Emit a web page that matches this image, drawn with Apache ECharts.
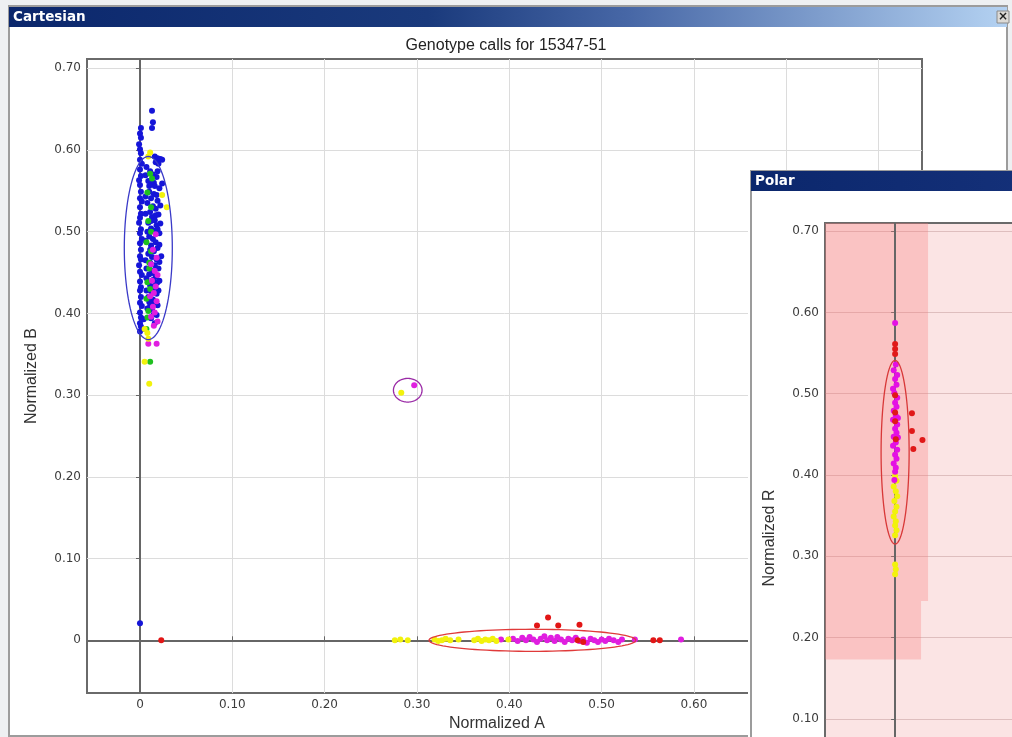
<!DOCTYPE html>
<html>
<head>
<meta charset="utf-8">
<script src="https://cdn.jsdelivr.net/npm/echarts@6.0.0/dist/echarts.min.js"></script>
<style>
  html, body { margin: 0; padding: 0; background: #eef0f2; overflow: hidden; width: 1012px; height: 737px; }
  #cart { position: absolute; left: 0; top: 0; width: 1012px; height: 737px; }
  #polar { position: absolute; left: 748px; top: 170px; width: 300px; height: 720px; z-index: 2; }
</style>
</head>
<body>
<div id="cart"></div>
<div id="polar"></div>
<script>
// ---------- Cartesian view: normalized A / normalized B ----------
const xTicks = [0, 0.1, 0.2, 0.3, 0.4, 0.5, 0.6, 0.7, 0.8];
const yTicks = [0, 0.1, 0.2, 0.3, 0.4, 0.5, 0.6, 0.7];
const polarTicks = [0.1, 0.2, 0.3, 0.4, 0.5, 0.6, 0.7];

// BB cluster, samples sitting on the B axis
const blueOnAxis = [
  [0.001,0.627],[0.000,0.620],[0.001,0.615],[-0.001,0.607],[0.000,0.601],[0.001,0.596],[0.000,0.588],
  [0.002,0.583],[0.000,0.576],[0.001,0.568],[-0.001,0.563],[0.000,0.557],[0.001,0.549],[0.000,0.541],
  [0.002,0.537],[0.000,0.530],[0.001,0.522],[0.000,0.517],[-0.001,0.511],[0.001,0.503],[0.000,0.498],
  [0.002,0.491],[0.000,0.486],[0.001,0.478],[0.000,0.470],[0.001,0.466],[-0.001,0.459],[0.000,0.451],
  [0.002,0.447],[0.000,0.439],[0.001,0.432],[0.000,0.428],[0.001,0.420],[0.000,0.413],[0.002,0.409],
  [0.000,0.401],[0.001,0.395],[0.000,0.388],[0.001,0.384],[0.000,0.378],[0.003,0.381],[0.004,0.393],
  [0.000,0.021]
];
// BB cluster, samples just off the axis
const blueCluster = [
  [0.013,0.648],[0.014,0.634],[0.013,0.627],[0.016,0.592],[0.019,0.590],[0.022,0.589],[0.024,0.588],
  [0.017,0.585],[0.020,0.583],[0.007,0.579],[0.011,0.574],[0.014,0.570],[0.018,0.567],[0.009,0.562],
  [0.015,0.560],[0.013,0.559],[0.024,0.559],[0.016,0.556],[0.021,0.553],[0.010,0.549],[0.015,0.546],
  [0.018,0.545],[0.012,0.541],[0.019,0.538],[0.008,0.535],[0.014,0.531],[0.017,0.528],[0.011,0.524],
  [0.020,0.521],[0.017,0.520],[0.013,0.518],[0.016,0.514],[0.009,0.511],[0.022,0.510],[0.018,0.508],
  [0.012,0.504],[0.015,0.501],[0.008,0.500],[0.021,0.498],[0.010,0.494],[0.014,0.491],[0.017,0.487],
  [0.012,0.483],[0.019,0.480],[0.015,0.476],[0.009,0.473],[0.023,0.470],[0.013,0.469],[0.018,0.466],
  [0.011,0.462],[0.016,0.459],[0.020,0.455],[0.007,0.455],[0.013,0.452],[0.010,0.448],[0.017,0.445],
  [0.014,0.441],[0.021,0.440],[0.019,0.438],[0.011,0.434],[0.015,0.431],[0.012,0.427],[0.018,0.424],
  [0.009,0.420],[0.014,0.417],[0.016,0.413],[0.011,0.409],[0.013,0.405],[0.015,0.399],[0.012,0.394],
  [0.016,0.388],[0.006,0.569],[0.019,0.574],[0.010,0.556],[0.006,0.543],[0.022,0.532],[0.006,0.522],
  [0.012,0.513],[0.019,0.503],[0.006,0.489],[0.021,0.484],[0.011,0.478],[0.006,0.465],[0.021,0.463],
  [0.015,0.449],[0.007,0.443],[0.017,0.436],[0.007,0.428],[0.020,0.428],[0.010,0.414],[0.019,0.410],
  [0.008,0.406],[0.018,0.398]
];
const greenPts = [
  [0.013,0.565],[0.011,0.571],[0.008,0.548],[0.012,0.530],[0.009,0.513],[0.012,0.500],[0.007,0.487],
  [0.012,0.476],[0.010,0.462],[0.010,0.455],[0.008,0.438],[0.011,0.430],[0.007,0.418],[0.009,0.403],
  [0.008,0.395],[0.007,0.381],[0.011,0.341]
];
const magentaPts = [
  [0.017,0.497],[0.014,0.478],[0.018,0.468],[0.012,0.460],[0.016,0.452],[0.019,0.447],[0.013,0.440],
  [0.017,0.433],[0.015,0.425],[0.011,0.421],[0.018,0.415],[0.014,0.408],[0.016,0.401],[0.012,0.396],
  [0.019,0.390],[0.015,0.385],[0.009,0.363],[0.018,0.363],
  [0.297,0.312],
  [0.391,0.001],[0.404,0.002],[0.409,-0.001],[0.414,0.003],[0.418,0.000],[0.422,0.004],[0.426,0.001],
  [0.430,-0.002],[0.434,0.002],[0.438,0.005],[0.441,0.000],[0.445,0.003],[0.449,-0.001],[0.452,0.004],
  [0.456,0.001],[0.460,-0.002],[0.464,0.002],[0.468,0.000],[0.472,0.003],[0.476,-0.001],[0.480,0.001],
  [0.484,-0.003],[0.488,0.002],[0.492,0.000],[0.496,-0.002],[0.500,0.001],[0.504,-0.001],[0.508,0.002],
  [0.513,0.000],[0.518,-0.002],[0.522,0.001],[0.536,0.001],[0.586,0.001]
];
const yellowPts = [
  [0.009,0.592],[0.011,0.597],[0.029,0.530],[0.024,0.545],[0.008,0.376],[0.005,0.381],[0.009,0.369],
  [0.005,0.341],[0.010,0.314],
  [0.283,0.303],
  [0.276,0.000],[0.282,0.001],[0.290,0.000],[0.319,0.001],[0.323,-0.001],[0.327,0.000],[0.331,0.002],
  [0.336,0.000],[0.345,0.001],[0.362,0.000],[0.366,0.002],[0.370,-0.001],[0.374,0.001],[0.378,0.000],
  [0.382,0.002],[0.386,-0.001],[0.399,0.001]
];
const redPts = [
  [0.023,0.000],[0.430,0.018],[0.442,0.028],[0.453,0.018],[0.476,0.019],[0.474,0.000],[0.480,-0.002],
  [0.556,0.000],[0.563,0.000]
];
// cluster ellipses: [centre A, centre B, half-width, half-height]
const bbEllipse = [0.009, 0.480, 0.026, 0.112];
const abEllipse = [0.290, 0.306, 0.0155, 0.0145];
const aaEllipse = [0.425, 0.000, 0.112, 0.0135];

// ---------- Polar view: theta / normalized R ----------
const polarMagenta = [
  [0.000,0.587],[0.001,0.536],[-0.002,0.529],[0.003,0.523],[0.000,0.518],[0.002,0.511],[-0.003,0.506],
  [-0.001,0.501],[0.003,0.495],[0.000,0.489],[0.002,0.484],[-0.002,0.479],[0.001,0.473],[-0.003,0.468],
  [0.003,0.462],[0.000,0.457],[0.002,0.452],[-0.002,0.447],[0.001,0.440],[-0.003,0.436],[0.003,0.431],
  [0.000,0.425],[0.002,0.420],[-0.002,0.414],[0.001,0.409],[0.000,0.404],[-0.001,0.394],[0.004,0.446],
  [0.004,0.470]
];
const polarRed = [
  [0.000,0.561],[0.000,0.555],[0.000,0.549],[0.000,0.498],[0.000,0.477],[0.001,0.444],[0.000,0.466],
  [0.024,0.476],[0.024,0.454],[0.039,0.443],[0.026,0.432]
];
const polarYellow = [
  [0.000,0.399],[0.002,0.393],[-0.002,0.386],[0.001,0.380],[0.003,0.374],[-0.001,0.368],[0.002,0.361],
  [0.000,0.355],[-0.002,0.349],[0.001,0.343],[0.000,0.338],[0.002,0.332],[0.000,0.326],[0.000,0.290],
  [0.001,0.284],[0.000,0.278]
];
const polarEllipse = [0.000, 0.428, 0.020, 0.113];
// called region for the cluster: [theta from, R from, theta to, R to]
const polarRegions = [
  [-0.1, 0.245, 0.047, 0.71],
  [-0.1, 0.173, 0.037, 0.245]
];

const tickFmt = v => (v === 0 ? '0' : v.toFixed(2));
const labelFont = { color: '#3c3c3c', fontSize: 12, fontFamily: 'DejaVu Sans' };
const nameFont = { color: '#333', fontSize: 16, fontFamily: 'Liberation Sans' };

function dots(data, color) {
  return { type: 'scatter', data: data, symbolSize: 6, itemStyle: { color: color, opacity: 1 }, silent: true, z: 4 };
}
function ellipse(row, color) {
  return {
    type: 'custom', coordinateSystem: 'cartesian2d', data: [row], silent: true, z: 5,
    encode: { x: 0, y: 1 },
    renderItem: function (params, api) {
      const cx = api.value(0), cy = api.value(1), rx = api.value(2), ry = api.value(3);
      const pts = [];
      for (let k = 0; k <= 96; k++) {
        const t = k / 96 * Math.PI * 2;
        pts.push(api.coord([cx + rx * Math.cos(t), cy + ry * Math.sin(t)]));
      }
      return { type: 'polyline', shape: { points: pts }, style: { stroke: color, fill: 'none', lineWidth: 1.3 } };
    }
  };
}
// zero lines sit under the sample dots
function zeroLines(items) {
  return {
    type: 'scatter', data: [], z: 2,
    markLine: {
      z: 2, silent: true, symbol: 'none', animation: false, label: { show: false },
      lineStyle: { color: '#666', width: 2, type: 'solid' },
      data: items
    }
  };
}
function titleBar(x, y, w, text, stops) {
  return [
    { type: 'rect', shape: { x: x, y: y, width: w, height: 20 }, z: 10,
      style: { fill: new echarts.graphic.LinearGradient(0, 0, 1, 0, stops) } },
    { type: 'text', x: x + 4, y: y + 10, z: 11,
      style: { text: text, fill: '#fff', font: 'bold 13.5px "DejaVu Sans"', verticalAlign: 'middle' } }
  ];
}

// ---------- Cartesian chart ----------
const cart = echarts.init(document.getElementById('cart'), null, { renderer: 'canvas' });
cart.setOption({
  animation: false,
  backgroundColor: '#eef0f2',
  title: {
    text: 'Genotype calls for 15347-51', left: 'center', top: 33,
    textStyle: { fontSize: 16, fontWeight: 'normal', color: '#222', fontFamily: 'Liberation Sans' }
  },
  graphic: [
    { type: 'rect', shape: { x: 9, y: 6, width: 998, height: 730 }, z: -10,
      style: { fill: '#fff', stroke: '#9c9c9c', lineWidth: 2 } },
    ...titleBar(9, 7, 998, 'Cartesian',
      [{ offset: 0, color: '#0b276c' }, { offset: 0.42, color: '#1a3a7c' },
       { offset: 0.62, color: '#4767a6' }, { offset: 1, color: '#b4d2f2' }]),
    { type: 'rect', shape: { x: 997, y: 11, width: 12, height: 12 }, z: 12,
      style: { fill: '#dcdad6', stroke: '#8a8a8a', lineWidth: 1 } },
    { type: 'text', x: 1003, y: 17, z: 13,
      style: { text: '×', fill: '#222', font: 'bold 12px "DejaVu Sans"', align: 'center', verticalAlign: 'middle' } }
  ],
  grid: {
    left: 87, top: 59, width: 835, height: 637,
    show: true, backgroundColor: '#fff', borderColor: '#6a6a6a', borderWidth: 2
  },
  xAxis: {
    type: 'value', min: -0.0574, max: 0.847,
    name: 'Normalized A', nameLocation: 'middle', nameGap: 10,
    nameTextStyle: Object.assign({ padding: [0, 15, 0, 0] }, nameFont),
    axisLine: { show: false },
    axisTick: { show: true, inside: true, length: 4, customValues: xTicks, lineStyle: { color: '#666' } },
    axisLabel: Object.assign({ customValues: xTicks, formatter: tickFmt, margin: 6 }, labelFont),
    splitLine: { show: true, lineStyle: { color: '#dcdcdc', width: 1 } }
  },
  yAxis: {
    type: 'value', min: -0.0646, max: 0.7113,
    name: 'Normalized B', nameLocation: 'middle', nameGap: 47, nameTextStyle: nameFont,
    axisLine: { show: false },
    axisTick: { show: true, inside: false, length: 4, customValues: yTicks, lineStyle: { color: '#666' } },
    axisLabel: Object.assign({ customValues: yTicks, formatter: tickFmt, margin: 6 }, labelFont),
    splitLine: { show: true, lineStyle: { color: '#dcdcdc', width: 1 } }
  },
  series: [
    zeroLines([{ xAxis: 0 }, { yAxis: 0 }]),
    dots(blueOnAxis, '#1515d8'),
    dots(blueCluster, '#1515d8'),
    dots(greenPts, '#1fc01f'),
    dots(magentaPts, '#e01ee0'),
    dots(yellowPts, '#f2f20c'),
    dots(redPts, '#e21616'),
    ellipse(bbEllipse, '#3a3ac8'),
    ellipse(abEllipse, '#9a2aa6'),
    ellipse(aaEllipse, '#e03a3a')
  ]
});

// ---------- Polar chart ----------
const polar = echarts.init(document.getElementById('polar'), null, { renderer: 'canvas' });
polar.setOption({
  animation: false,
  backgroundColor: '#fff',
  graphic: [
    { type: 'rect', shape: { x: 3, y: 0, width: 320, height: 740 }, z: -10,
      style: { fill: '#fff', stroke: '#9c9c9c', lineWidth: 2 } },
    ...titleBar(3, 1, 297, 'Polar',
      [{ offset: 0, color: '#0b276c' }, { offset: 1, color: '#15317a' }])
  ],
  grid: {
    left: 77, top: 53, width: 197, height: 630,
    show: true, backgroundColor: '#fbe4e4', borderColor: '#6a6a6a', borderWidth: 2
  },
  xAxis: {
    type: 'value', min: -0.1, max: 0.181,
    axisLine: { show: false }, axisTick: { show: false }, axisLabel: { show: false },
    splitLine: { show: false }
  },
  yAxis: {
    type: 'value', min: -0.065, max: 0.71,
    name: 'Normalized R', nameLocation: 'middle', nameGap: 47, nameTextStyle: nameFont,
    axisLine: { show: false },
    axisTick: { show: true, inside: false, length: 4, customValues: polarTicks, lineStyle: { color: '#666' } },
    axisLabel: Object.assign({ customValues: polarTicks, formatter: tickFmt, margin: 6 }, labelFont),
    splitLine: { show: true, lineStyle: { color: 'rgba(170,120,120,0.35)', width: 1 } }
  },
  series: [
    {
      type: 'scatter', data: [], z: 1,
      markArea: {
        z: 1, silent: true,
        itemStyle: { color: 'rgba(250,120,120,0.3)', borderWidth: 0 },
        data: polarRegions.map(r => [{ coord: [r[0], r[1]] }, { coord: [r[2], r[3]] }])
      }
    },
    zeroLines([{ xAxis: 0 }]),
    dots(polarYellow, '#f2f20c'),
    dots(polarMagenta, '#e410e4'),
    dots(polarRed, '#e01818'),
    ellipse(polarEllipse, '#d83838')
  ]
});
</script>
</body>
</html>
